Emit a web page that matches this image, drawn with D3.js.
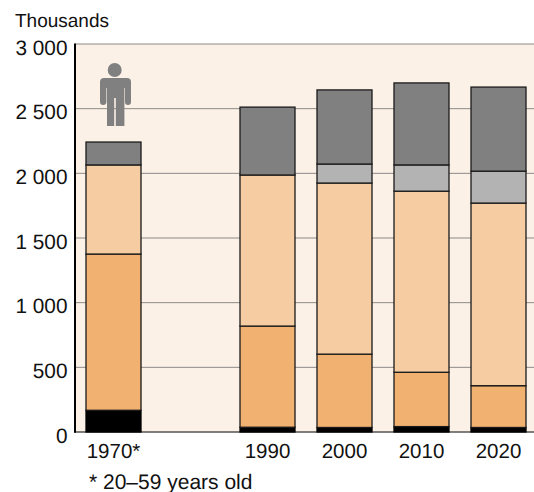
<!DOCTYPE html>
<html><head><meta charset="utf-8">
<style>html,body{margin:0;padding:0;background:#fff}svg{display:block}text{font-family:"Liberation Sans",Arial,sans-serif;fill:#111;text-rendering:geometricPrecision}</style>
<script src="https://cdn.jsdelivr.net/npm/d3@7"></script></head>
<body><svg id="chart" width="534" height="492"></svg>
<script>
const years = [1970, 1990, 2000, 2010, 2020];
const yearLabels = ["1970*", "1990", "2000", "2010", "2020"];
const seriesKeys = ["black", "orange", "pale", "silver", "grey"];
const black  = [168, 37, 35, 42, 35];
const orange = [1208, 782, 567, 420, 323];
const pale   = [689, 1168, 1323, 1400, 1412];
const silver = [0, 0, 147, 203, 247];
const grey   = [177, 525, 573, 634, 650];
const seriesValues = [black, orange, pale, silver, grey];
const seriesColors = ["#000000", "#f1b271", "#f6cda2", "#b3b3b3", "#808080"];
const yTicks = [0, 500, 1000, 1500, 2000, 2500, 3000];

const svg = d3.select("#chart");
const x = d3.scaleLinear().domain([1970, 2020]).range([113.5, 498.5]);
const y = d3.scaleLinear().domain([0, 3000]).range([432, 44]);
const barWidth = 55;
const left = 75, right = 534;

// plot background
svg.append("rect").attr("x", left).attr("y", y(3000)).attr("width", right - left)
  .attr("height", y(0) - y(3000)).attr("fill", "#fcf1e7");

// gridlines, including the top rule
svg.append("g").selectAll("line").data(yTicks.filter(d => d > 0)).join("line")
  .attr("x1", left).attr("x2", right).attr("y1", d => y(d)).attr("y2", d => y(d))
  .attr("stroke", "#8c8a88").attr("stroke-width", 1);

// baseline sits under the bars
svg.append("line").attr("x1", left - 0.5).attr("x2", right).attr("y1", y(0)).attr("y2", y(0))
  .attr("stroke", "#555").attr("stroke-width", 1.6);

// stacked bars
const stacked = d3.stack().keys(d3.range(seriesKeys.length)).value((row, k) => row[k])(
  years.map((_, i) => seriesValues.map(s => s[i])));
stacked.forEach((layer, k) => {
  svg.append("g").attr("class", seriesKeys[k]).selectAll("rect")
    .data(layer.map((d, i) => ({ d, i })).filter(e => e.d[1] > e.d[0])).join("rect")
    .attr("x", e => x(years[e.i]) - barWidth / 2)
    .attr("width", barWidth)
    .attr("y", e => y(e.d[1]))
    .attr("height", e => y(e.d[0]) - y(e.d[1]))
    .attr("fill", seriesColors[k])
    .attr("stroke", k === 0 ? "#000" : "#1a1a1a").attr("stroke-width", 1.3);
});

// value axis line
svg.append("line").attr("x1", left).attr("x2", left).attr("y1", y(3000)-0.5).attr("y2", y(0)+0.8)
  .attr("stroke", "#000").attr("stroke-width", 2);

// value axis labels
svg.append("g").selectAll("text").data(yTicks).join("text")
  .attr("x", 67.5).attr("y", d => y(d) + 10.5).attr("text-anchor", "end")
  .attr("font-size", 20.8)
  .text(d => d3.format(",")(d).replace(",", " "));

svg.append("text").attr("x", 15).attr("y", 26.5).attr("font-size", 19).text("Thousands");

// year labels
svg.append("g").selectAll("text").data(years).join("text")
  .attr("x", d => x(d)).attr("y", 458).attr("text-anchor", "middle")
  .attr("font-size", 20.5).text((d, i) => yearLabels[i]);

svg.append("text").attr("x", 89).attr("y", 488.5).attr("font-size", 21).text("* 20\u201359 years old");

// person pictogram above the first bar
const person = svg.append("g").attr("fill", "#808080");
person.append("circle").attr("cx", 114.7).attr("cy", 70).attr("r", 7);
person.append("path").attr("d",
  "M104 78H127Q131 78 131 82V102Q131 105 128 105Q125 105 125 102V88H124.4V126H115.8V98H114.2V126H107V88H106.4V102Q106.4 105 103.2 105Q100 105 100 102V82Q100 78 104 78Z");
</script></body></html>
